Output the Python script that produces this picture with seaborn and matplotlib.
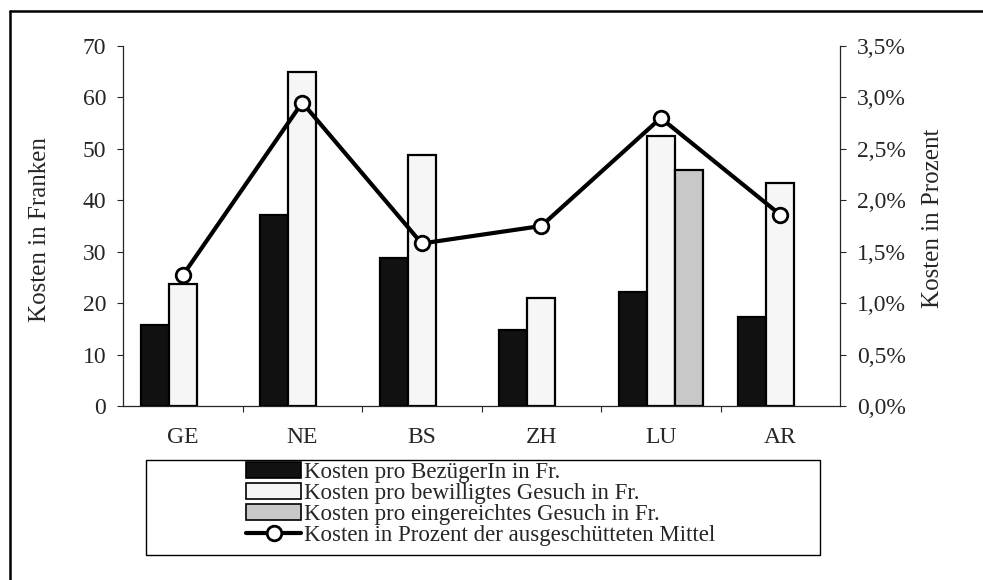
import numpy as np
import pandas as pd
import matplotlib
matplotlib.use("Agg")
import matplotlib.pyplot as plt
from matplotlib.lines import Line2D
from matplotlib.patches import Rectangle
from matplotlib.ticker import FuncFormatter
import seaborn as sns

# values
cantons = ["GE", "NE", "BS", "ZH", "LU", "AR"]
kosten_bezueger = [15.7, 37.1, 28.8, 14.8, 22.2, 17.3]
kosten_bewilligt = [23.8, 64.9, 48.9, 21.0, 52.5, 43.3]
kosten_eingereicht = [np.nan, np.nan, np.nan, np.nan, 45.8, np.nan]
kosten_prozent = [1.27, 2.95, 1.58, 1.75, 2.80, 1.86]

series_labels = [
    "Kosten pro BezügerIn in Fr.",
    "Kosten pro bewilligtes Gesuch in Fr.",
    "Kosten pro eingereichtes Gesuch in Fr.",
]
series_colors = ["#111111", "#f6f6f6", "#c8c8c8"]
line_label = "Kosten in Prozent der ausgeschütteten Mittel"

sns.set_style("ticks")
plt.rcParams["font.family"] = ["Liberation Serif", "DejaVu Serif"]

# long table for the bars, missing values dropped (gaps stay in place)
bars = pd.DataFrame({
    "Kanton": cantons * 3,
    "Serie": np.repeat(series_labels, len(cantons)),
    "Kosten": kosten_bezueger + kosten_bewilligt + kosten_eingereicht,
}).dropna()

line_df = pd.DataFrame({"pos": np.arange(len(cantons)), "Prozent": kosten_prozent})

W, H = 983, 580
fig = plt.figure(figsize=(W / 100, H / 100), dpi=100)
ax = fig.add_axes([123 / W, 1 - 406 / H, 717 / W, 360 / H])

sns.barplot(data=bars, x="Kanton", y="Kosten", hue="Serie",
            order=cantons, hue_order=series_labels,
            palette=dict(zip(series_labels, series_colors)),
            width=0.7, errorbar=None, saturation=1,
            edgecolor="black", linewidth=1.6, ax=ax)

handles, labels = ax.get_legend_handles_labels()
if ax.get_legend() is not None:
    ax.get_legend().remove()

ax.set_xlim(-0.5, len(cantons) - 0.5)
ax.set_ylim(0, 70)
ax.set_yticks(range(0, 71, 10))
ax.set_xlabel("")
ax.set_ylabel("Kosten in Franken", fontsize=18)
ax.yaxis.set_label_coords(-0.100, 0.49)
ax.set_xticks(range(len(cantons)))
ax.set_xticklabels(cantons)
ax.set_xticks(np.arange(0.5, len(cantons) - 0.5, 1), minor=True)
ax.tick_params(axis="x", which="major", length=0, pad=15, labelsize=17)
ax.tick_params(axis="x", which="minor", length=4, width=0.8, direction="out")
ax.tick_params(axis="y", length=4, width=0.8, pad=8, labelsize=17)
for side in ["top", "right"]:
    ax.spines[side].set_visible(False)
for side in ["left", "bottom"]:
    ax.spines[side].set_linewidth(0.9)

# percentage line on the secondary axis
ax2 = ax.twinx()
sns.lineplot(data=line_df, x="pos", y="Prozent", ax=ax2, color="black",
             linewidth=3, marker="o", markersize=10.5, markerfacecolor="white",
             markeredgecolor="black", markeredgewidth=2, legend=False)
ax2.set_ylim(0, 3.5)
ax2.set_yticks(np.arange(0, 3.51, 0.5))
ax2.yaxis.set_major_formatter(FuncFormatter(lambda v, p: f"{v:.1f}%".replace(".", ",")))
ax2.set_ylabel("Kosten in Prozent", fontsize=18)
ax2.yaxis.set_label_coords(1.115, 0.52)
ax2.tick_params(axis="y", length=4, width=0.8, pad=8, labelsize=17)
for side in ["top", "left", "bottom"]:
    ax2.spines[side].set_visible(False)
ax2.spines["right"].set_linewidth(0.9)
ax.set_xlim(-0.5, len(cantons) - 0.5)

line_handle = ax2.lines[0]
for h in handles:
    h.set_edgecolor("black")
    h.set_linewidth(1.2)

fig.legend(handles + [line_handle], labels + [line_label],
           loc="upper left", bbox_to_anchor=(246 / W, 1 - 462 / H),
           frameon=False, fontsize=16.5, handlelength=2.4, handleheight=0.65,
           handletextpad=0.15, labelspacing=0.0, borderpad=0, borderaxespad=0)

# legend box and page frame
fig.add_artist(Rectangle((146 / W, 1 - 555 / H), (820 - 146) / W, 95 / H,
                         transform=fig.transFigure, fill=False,
                         edgecolor="black", linewidth=1.0))
fig.add_artist(Line2D([10 / W, 1], [1 - 11 / H, 1 - 11 / H],
                      transform=fig.transFigure, color="black", linewidth=1.8))
fig.add_artist(Line2D([10 / W, 10 / W], [0, 1 - 11 / H],
                      transform=fig.transFigure, color="black", linewidth=1.8))

fig.savefig("out.png", dpi=100)
